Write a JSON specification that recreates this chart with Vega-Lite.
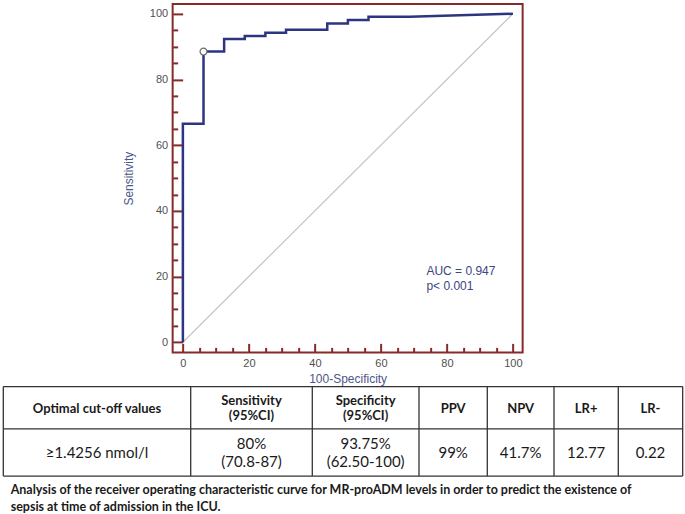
{
  "$schema": "https://vega.github.io/schema/vega-lite/v6.json",
  "padding": {"left": 2.65, "top": 0.9, "right": 0, "bottom": 0},
  "background": "white",
  "config": {"view": {"stroke": null}, "font": "Liberation Sans"},
  "datasets": {
    "roc": [
      {"o": 1, "x": 0, "y": 0},
      {"o": 2, "x": 0, "y": 66.5},
      {"o": 3, "x": 6.25, "y": 66.5},
      {"o": 4, "x": 6.25, "y": 88.5},
      {"o": 5, "x": 12.5, "y": 88.5},
      {"o": 6, "x": 12.5, "y": 92.3},
      {"o": 7, "x": 18.75, "y": 92.3},
      {"o": 8, "x": 18.75, "y": 93.2},
      {"o": 9, "x": 25, "y": 93.2},
      {"o": 10, "x": 25, "y": 94.2},
      {"o": 11, "x": 31.25, "y": 94.2},
      {"o": 12, "x": 31.25, "y": 95.1},
      {"o": 13, "x": 43.75, "y": 95.1},
      {"o": 14, "x": 43.75, "y": 97.0},
      {"o": 15, "x": 50, "y": 97.0},
      {"o": 16, "x": 50, "y": 98.1},
      {"o": 17, "x": 56.25, "y": 98.1},
      {"o": 18, "x": 56.25, "y": 99.1},
      {"o": 19, "x": 68.75, "y": 99.1},
      {"o": 20, "x": 100, "y": 100}
    ],
    "diag": [{"x": 0, "y": 0}, {"x": 100, "y": 100}],
    "cut": [{"x": 6.25, "y": 88.5}],
    "note": [{"note": "AUC = 0.947\np< 0.001"}],
    "vlines": [{"b": 0}, {"b": 1}, {"b": 2}, {"b": 3}, {"b": 4}, {"b": 5}, {"b": 6}, {"b": 7}],
    "hlines": [{"r": 0}, {"r": 1}, {"r": 2}],
    "head1": [
      {"col": 0, "row": 0, "t": "Optimal cut-off values"},
      {"col": 3, "row": 0, "t": "PPV"},
      {"col": 4, "row": 0, "t": "NPV"},
      {"col": 5, "row": 0, "t": "LR+"},
      {"col": 6, "row": 0, "t": "LR-"}
    ],
    "head2": [
      {"col": 1, "row": 0, "t": "Sensitivity\n(95%CI)"},
      {"col": 2, "row": 0, "t": "Specificity\n(95%CI)"}
    ],
    "body1": [
      {"col": 0, "row": 1, "t": "≥1.4256 nmol/l"},
      {"col": 3, "row": 1, "t": "99%"},
      {"col": 4, "row": 1, "t": "41.7%"},
      {"col": 5, "row": 1, "t": "12.77"},
      {"col": 6, "row": 1, "t": "0.22"}
    ],
    "body2": [
      {"col": 1, "row": 1, "t": "80%\n(70.8-87)"},
      {"col": 2, "row": 1, "t": "93.75%\n(62.50-100)"}
    ]
  },
  "spacing": -3.5,
  "vconcat": [
    {
      "spacing": 0,
      "hconcat": [
        {
          "width": 118.5,
          "height": 1,
          "data": {"values": [{}]},
          "mark": {"type": "point", "opacity": 0},
          "encoding": {}
        },
        {
          "width": 350,
          "height": 348.5,
          "view": {"stroke": "#862a2a", "strokeWidth": 2},
          "resolve": {"axis": {"x": "independent", "y": "independent"}},
          "layer": [
            {
              "data": {"name": "diag"},
              "mark": {"type": "line", "color": "#c4c4c4", "strokeWidth": 1.2},
              "encoding": {
                "x": {
                  "field": "x", "type": "quantitative",
                  "scale": {"domain": [-3.1, 102.95], "nice": false, "zero": false},
                  "axis": {
                    "orient": "bottom", "values": [0, 20, 40, 60, 80, 100], "title": "100-Specificity",
                    "domain": false, "grid": false, "tickSize": -9, "tickWidth": 2, "tickColor": "#862a2a",
                    "labelPadding": 14, "labelFontSize": 11, "labelColor": "#505050", "labelFont": "Liberation Sans",
                    "titleFont": "Liberation Sans", "titleFontSize": 12, "titleFontWeight": "normal",
                    "titleColor": "#4d568a", "titlePadding": 5.5
                  }
                },
                "y": {
                  "field": "y", "type": "quantitative",
                  "scale": {"domain": [-3.1, 103], "nice": false, "zero": false},
                  "axis": {
                    "orient": "left", "values": [0, 20, 40, 60, 80, 100], "title": "Sensitivity",
                    "domain": false, "grid": false, "tickSize": -10, "tickWidth": 2, "tickColor": "#862a2a",
                    "labelPadding": 15, "labelFontSize": 11, "labelColor": "#505050", "labelFont": "Liberation Sans",
                    "titleFont": "Liberation Sans", "titleFontSize": 12, "titleFontWeight": "normal",
                    "titleColor": "#4d568a", "titlePadding": 13.5
                  }
                }
              }
            },
            {
              "data": {"name": "roc"},
              "mark": {"type": "line", "color": "#2d3480", "strokeWidth": 2.5, "strokeJoin": "miter"},
              "encoding": {
                "x": {
                  "field": "x", "type": "quantitative",
                  "axis": {
                    "orient": "bottom", "values": [5, 10, 15, 25, 30, 35, 45, 50, 55, 65, 70, 75, 85, 90, 95],
                    "labels": false, "title": null, "domain": false, "grid": false,
                    "tickSize": -5, "tickWidth": 2, "tickColor": "#862a2a"
                  }
                },
                "y": {
                  "field": "y", "type": "quantitative",
                  "axis": {
                    "orient": "left", "values": [5, 10, 15, 25, 30, 35, 45, 50, 55, 65, 70, 75, 85, 90, 95],
                    "labels": false, "title": null, "domain": false, "grid": false,
                    "tickSize": -5, "tickWidth": 2, "tickColor": "#862a2a"
                  }
                },
                "order": {"field": "o", "type": "quantitative"}
              }
            },
            {
              "data": {"name": "cut"},
              "mark": {"type": "point", "filled": true, "fill": "white", "stroke": "#6a6a6a", "strokeWidth": 1.2, "size": 48, "opacity": 1},
              "encoding": {
                "x": {"field": "x", "type": "quantitative", "axis": null},
                "y": {"field": "y", "type": "quantitative", "axis": null}
              }
            },
            {
              "data": {"name": "note"},
              "mark": {"type": "text", "align": "left", "baseline": "middle", "lineBreak": "\n", "lineHeight": 15.7, "font": "Liberation Sans", "fontSize": 12, "color": "#3d4680"},
              "encoding": {
                "x": {"datum": 73.8, "type": "quantitative", "axis": null},
                "y": {"datum": 21.8, "type": "quantitative", "axis": null},
                "text": {"field": "note", "type": "nominal"}
              }
            }
          ]
        }
      ]
    },
    {
      "width": 680,
      "height": 91,
      "title": {
        "text": ["Analysis of the receiver operating characteristic curve for MR-proADM levels in order to predict the existence of", "sepsis at time of admission in the ICU."],
        "orient": "bottom", "anchor": "start", "font": "Lato", "fontSize": 12.5, "fontWeight": "bold",
        "color": "#1a1a1a", "lineHeight": 16.7, "offset": 7, "dx": 8
      },
      "resolve": {"scale": {"x": "independent", "y": "independent"}},
      "layer": [
        {
          "layer": [
            {
              "data": {"name": "vlines"},
              "mark": {"type": "rule", "color": "#333333", "strokeWidth": 1.3},
              "encoding": {
                "x": {"field": "b", "type": "quantitative", "axis": null,
                      "scale": {"domain": [0, 1, 2, 3, 4, 5, 6, 7], "range": [0.65, 188.05, 309.65, 416.35, 484.65, 551.35, 615.65, 680.05], "nice": false, "zero": false}},
                "y": {"datum": 0, "type": "quantitative", "axis": null,
                      "scale": {"domain": [0, 1, 2], "range": [0.65, 42.95, 90.15], "nice": false, "zero": false}},
                "y2": {"datum": 2}
              }
            },
            {
              "data": {"name": "hlines"},
              "mark": {"type": "rule", "color": "#333333", "strokeWidth": 1.3},
              "encoding": {
                "x": {"datum": 0, "type": "quantitative", "axis": null},
                "x2": {"datum": 7},
                "y": {"field": "r", "type": "quantitative", "axis": null}
              }
            }
          ]
        },
        {
          "layer": [
            {
              "data": {"name": "head1"},
              "mark": {"type": "text", "font": "Lato", "fontSize": 13, "fontWeight": "bold", "baseline": "middle", "align": "center", "color": "#1a1a1a"},
              "encoding": {
                "x": {"field": "col", "type": "quantitative", "axis": null,
                      "scale": {"domain": [0, 1, 2, 3, 4, 5, 6], "range": [94.35, 248.85, 363.0, 450.5, 518.0, 583.5, 647.85], "nice": false, "zero": false}},
                "y": {"field": "row", "type": "quantitative", "axis": null,
                      "scale": {"domain": [0, 1], "range": [22.65, 67.15], "nice": false, "zero": false}},
                "text": {"field": "t", "type": "nominal"}
              }
            },
            {
              "data": {"name": "head2"},
              "mark": {"type": "text", "font": "Lato", "fontSize": 13, "fontWeight": "bold", "lineBreak": "\n", "lineHeight": 14.5, "baseline": "middle", "align": "center", "dy": -7.25, "color": "#1a1a1a"},
              "encoding": {
                "x": {"field": "col", "type": "quantitative", "axis": null},
                "y": {"field": "row", "type": "quantitative", "axis": null},
                "text": {"field": "t", "type": "nominal"}
              }
            },
            {
              "data": {"name": "body1"},
              "mark": {"type": "text", "font": "Lato", "fontSize": 15, "baseline": "middle", "align": "center", "color": "#1a1a1a"},
              "encoding": {
                "x": {"field": "col", "type": "quantitative", "axis": null},
                "y": {"field": "row", "type": "quantitative", "axis": null},
                "text": {"field": "t", "type": "nominal"}
              }
            },
            {
              "data": {"name": "body2"},
              "mark": {"type": "text", "font": "Lato", "fontSize": 15, "lineBreak": "\n", "lineHeight": 18, "baseline": "middle", "align": "center", "dy": -9, "color": "#1a1a1a"},
              "encoding": {
                "x": {"field": "col", "type": "quantitative", "axis": null},
                "y": {"field": "row", "type": "quantitative", "axis": null},
                "text": {"field": "t", "type": "nominal"}
              }
            }
          ]
        }
      ]
    }
  ]
}
